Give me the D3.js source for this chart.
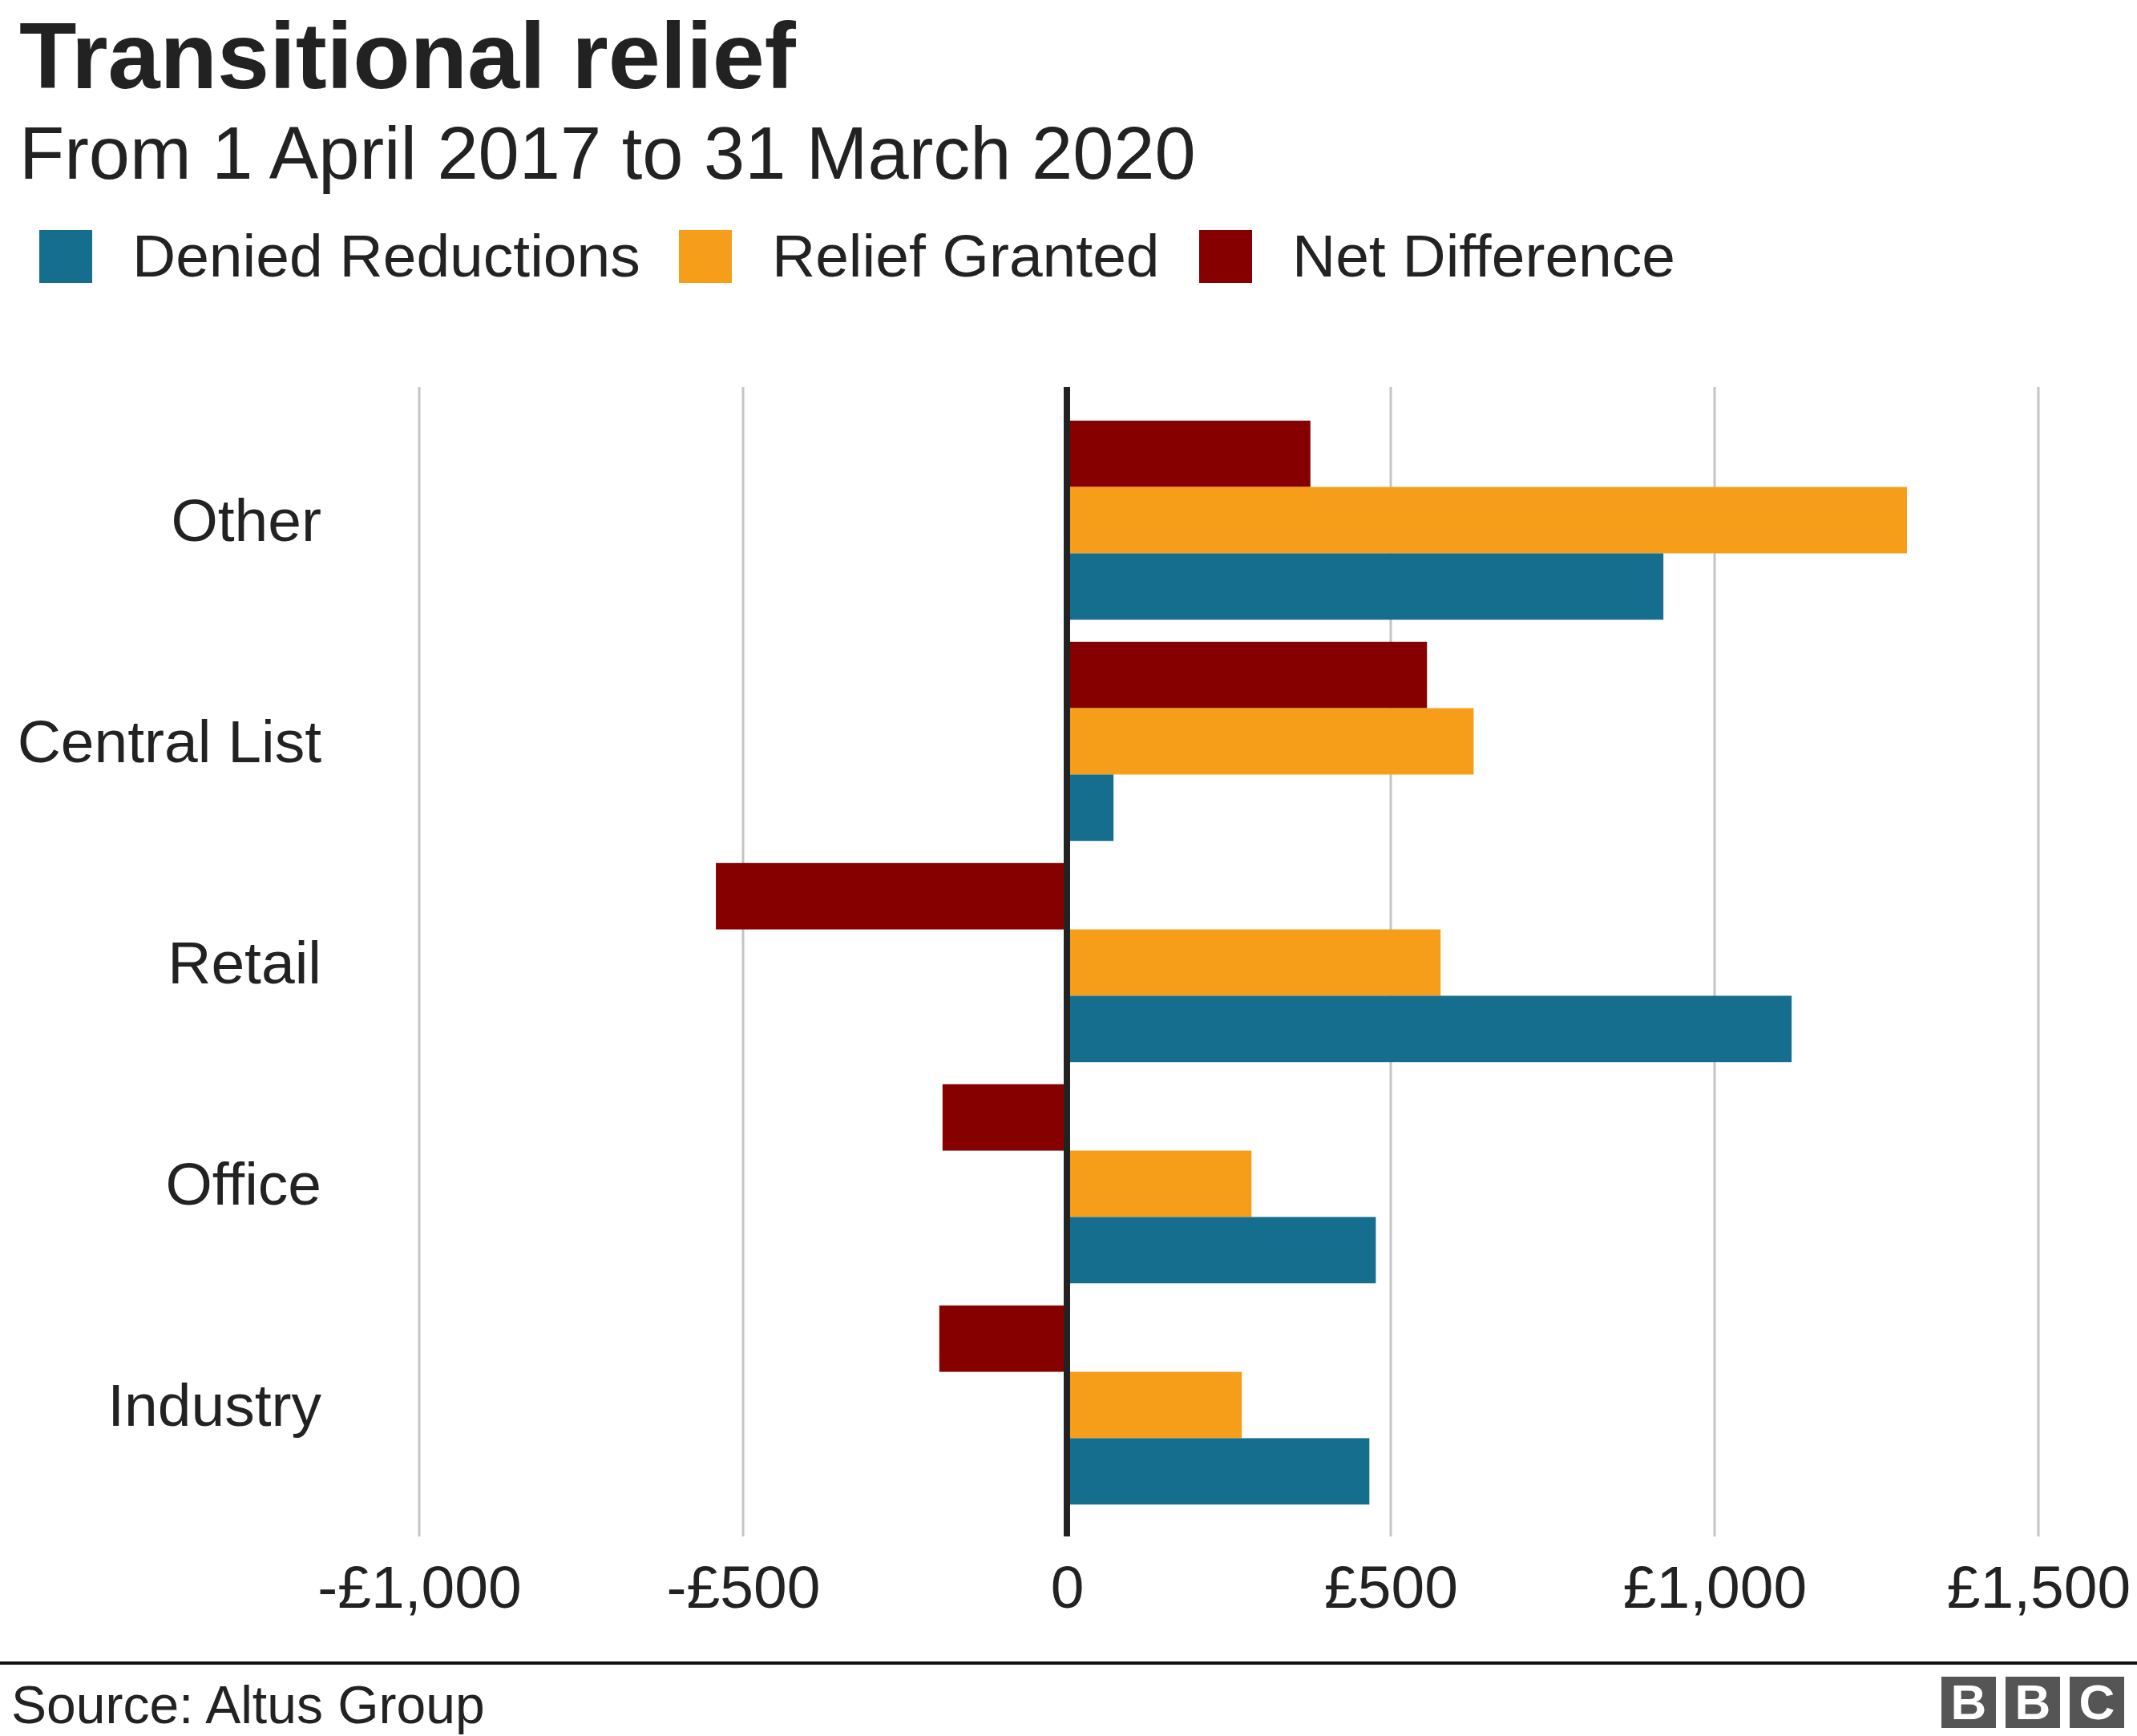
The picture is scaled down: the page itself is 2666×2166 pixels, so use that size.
<!DOCTYPE html>
<html>
<head>
<meta charset="utf-8">
<script src="https://cdn.jsdelivr.net/npm/d3@7"></script>
<style>
  html, body { margin: 0; padding: 0; background: #ffffff; }
  svg { display: block; }
  text { font-family: "Liberation Sans", Arial, Helvetica, sans-serif; fill: #222222; }
</style>
</head>
<body>
<svg id="chart" width="2666" height="2166"></svg>
<script>
// ---- Data ----
const categories = ["Other", "Central List", "Retail", "Office", "Industry"];
const seriesNames = ["Net Difference", "Relief Granted", "Denied Reductions"];
const deniedReductions = [921, 72, 1119, 477, 467];
const reliefGranted = [1297, 628, 577, 285, 270];
const netDifference = [376, 556, -542, -192, -197];
const tickValues = [-1000, -500, 0, 500, 1000, 1500];
const legendOrder = ["Denied Reductions", "Relief Granted", "Net Difference"];
const titleText = "Transitional relief";
const subtitleText = "From 1 April 2017 to 31 March 2020";
const sourceText = "Source: Altus Group";

const colors = {
  "Denied Reductions": "#166e8f",
  "Relief Granted": "#f69e1a",
  "Net Difference": "#860000"
};

const seriesValues = {
  "Net Difference": netDifference,
  "Relief Granted": reliefGranted,
  "Denied Reductions": deniedReductions
};

// ---- Layout ----
const svg = d3.select("#chart");
const W = 2666, H = 2166;
const plotTop = 483, plotBottom = 1917;

const x = d3.scaleLinear().domain([-1000, 1500]).range([523, 2543]);
const y = d3.scaleBand().domain(categories).range([511, 1891]).paddingInner(0.1).paddingOuter(0.05);
const ySub = d3.scaleBand().domain(seriesNames).range([0, y.bandwidth()]);

// Title & subtitle
svg.append("text").attr("x", 24).attr("y", 110)
  .style("font-size", "117px").style("font-weight", "bold").text(titleText);
svg.append("text").attr("x", 24).attr("y", 223)
  .style("font-size", "92px").text(subtitleText);

// Legend
const legendX = [49, 847, 1496];
const lg = svg.append("g");
legendOrder.forEach((name, i) => {
  lg.append("rect").attr("x", legendX[i]).attr("y", 287).attr("width", 66).attr("height", 66)
    .attr("fill", colors[name]);
  lg.append("text").attr("x", legendX[i] + 116).attr("y", 345)
    .style("font-size", "75px").text(name);
});

// Gridlines
const grid = svg.append("g");
grid.selectAll("line").data(tickValues.filter(v => v !== 0)).join("line")
  .attr("x1", d => x(d)).attr("x2", d => x(d))
  .attr("y1", plotTop).attr("y2", plotBottom)
  .attr("stroke", "#c4c4c4").attr("stroke-width", 3);

// Bars
const groups = svg.append("g").selectAll("g").data(categories).join("g")
  .attr("transform", d => `translate(0,${y(d)})`);

groups.selectAll("rect")
  .data((c, ci) => seriesNames.map(s => ({ series: s, value: seriesValues[s][ci] })))
  .join("rect")
  .attr("x", d => Math.min(x(0), x(d.value)))
  .attr("width", d => Math.abs(x(d.value) - x(0)))
  .attr("y", d => ySub(d.series))
  .attr("height", ySub.bandwidth())
  .attr("fill", d => colors[d.series]);

// Zero line
svg.append("line")
  .attr("x1", x(0)).attr("x2", x(0))
  .attr("y1", plotTop).attr("y2", plotBottom)
  .attr("stroke", "#222222").attr("stroke-width", 8);

// Category labels
const yAxis = d3.axisLeft(y).tickSize(0).tickPadding(0);
const yg = svg.append("g").attr("transform", "translate(401,0)").call(yAxis);
yg.select(".domain").remove();
yg.selectAll("text")
  .style("font-size", "75px")
  .style("font-family", "'Liberation Sans', Arial, Helvetica, sans-serif")
  .attr("fill", "#222222")
  .attr("dy", "0.35em");

// X axis tick labels
const fmt = v => v === 0 ? "0" : (v < 0 ? "-" : "") + "£" + d3.format(",")(Math.abs(v));
const xAxis = d3.axisBottom(x).tickValues(tickValues).tickFormat(fmt).tickSize(0).tickPadding(0);
const xg = svg.append("g").attr("transform", "translate(0,2006)").call(xAxis);
xg.select(".domain").remove();
xg.selectAll("text")
  .style("font-size", "75px")
  .style("font-family", "'Liberation Sans', Arial, Helvetica, sans-serif")
  .attr("fill", "#222222")
  .attr("dy", "0");

// Footer rule
svg.append("rect").attr("x", 0).attr("y", 2073).attr("width", W).attr("height", 4).attr("fill", "#111111");

// Source
svg.append("text").attr("x", 14).attr("y", 2150)
  .style("font-size", "66px").attr("fill", "#000000").text(sourceText);

// BBC logo
const logo = svg.append("g");
const letters = ["B", "B", "C"];
const boxX = [2422, 2502, 2582];
letters.forEach((l, i) => {
  logo.append("rect").attr("x", boxX[i]).attr("y", 2092).attr("width", 68).attr("height", 64).attr("fill", "#555555");
  logo.append("text").attr("x", boxX[i] + 34).attr("y", 2145)
    .attr("text-anchor", "middle")
    .style("font-size", "62px").style("font-weight", "bold")
    .style("fill", "#ffffff").text(l);
});
</script>
</body>
</html>
